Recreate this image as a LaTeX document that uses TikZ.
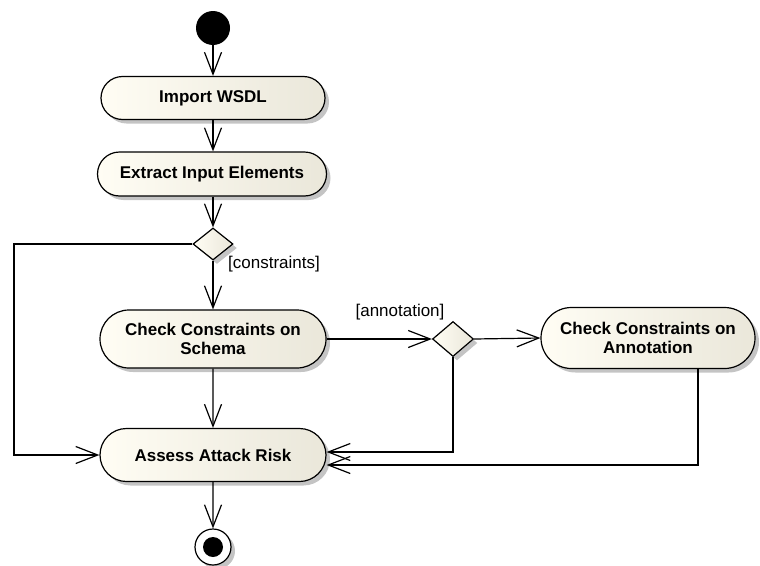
\documentclass[tikz,border=0pt]{standalone}
\usepackage{fontspec}
\setmainfont{Liberation Sans}
\usetikzlibrary{shapes.geometric,shapes.misc,arrows.meta,shadows}
\definecolor{actL}{RGB}{255,253,244}
\definecolor{actR}{RGB}{234,231,218}
\definecolor{shad}{RGB}{196,196,196}
\begin{document}
\begin{tikzpicture}[x=1pt,y=-1pt,
  lw/.style={line width=1.2pt},
  shd/.style={drop shadow={shadow xshift=4pt,shadow yshift=-4pt,fill=shad,opacity=1}},
  act/.style={rounded rectangle, draw, lw, left color=actL, right color=actR, shd,
    align=center, inner sep=2pt, font=\fontsize{17}{19}\selectfont\bfseries},
  dec/.style={diamond, draw, lw, left color=actL, right color=actR, shd, inner sep=0pt},
  lbl/.style={font=\fontsize{17}{20}\selectfont, inner sep=0pt},
  arr/.style={lw, -{Straight Barb[length=22pt,width=17pt,line width=1.2pt]}},
  ]
\useasboundingbox (0,0) rectangle (760,565);

\node[circle, fill=black, minimum size=34pt, inner sep=0pt] (init) at (213,28) {};
\node[act, minimum width=228pt, minimum height=43pt] (import) at (213,98) {Import WSDL};
\node[act, minimum width=233pt, minimum height=44pt] (extract) at (212,174) {Extract Input Elements};
\node[dec, minimum width=40pt, minimum height=32pt] (dec1) at (213,244) {};
\node[act, minimum width=230pt, minimum height=58pt] (check) at (213,339) {Check Constraints on\\Schema};
\node[dec, minimum width=41pt, minimum height=35pt] (dec2) at (453,339) {};
\node[act, minimum width=218pt, minimum height=61pt] (annot) at (648,338) {Check Constraints on\\Annotation};
\node[act, minimum width=230pt, minimum height=53pt] (assess) at (213,455) {Assess Attack Risk};
\node[circle, draw, lw, fill=white, minimum size=36pt, inner sep=0pt, shd] (final) at (213,547) {};
\node[circle, fill=black, minimum size=20pt, inner sep=0pt] (finaldot) at (final.center) {};

\node[lbl, anchor=west] (lc) at (228,264) {[constraints]};
\node[lbl] (la) at (400,312) {[annotation]};

\coordinate (leftx) at (14,244);

\draw[arr] (init) -- (import);
\draw[arr] (import.south) -- (extract.north -| import.south);
\draw[arr] (extract.south -| dec1.north) -- (dec1.north);
\draw[arr] (dec1) -- (check);
\draw[arr] (dec1.west) -- (leftx) |- (assess.west);
\draw[arr] (check.east) -- (dec2.west);
\draw[arr] (dec2.east) -- (annot.west);
\draw[arr] (dec2.south) |- ([yshift=3pt]assess.east);
\draw[arr] ([xshift=50pt]annot.south) |- ([yshift=-10pt]assess.east);
\draw[arr] (check) -- (assess);
\draw[arr] (assess) -- (final);
\end{tikzpicture}
\end{document}
